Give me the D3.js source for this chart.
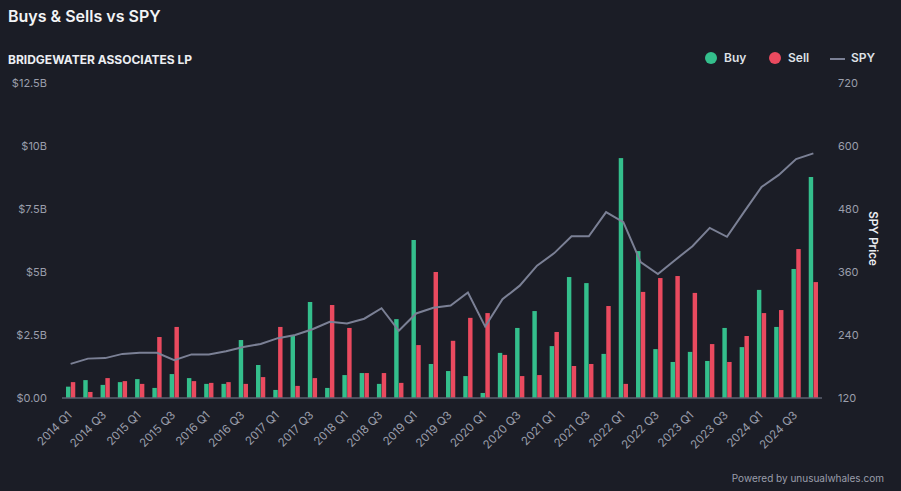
<!DOCTYPE html>
<html>
<head>
<meta charset="utf-8">
<script src="https://cdn.jsdelivr.net/npm/d3@7"></script>
<style>
  html, body { margin: 0; padding: 0; background: #1b1d26; }
  svg { display: block; font-family: Inter, "Noto Sans", sans-serif; }
</style>
</head>
<body>
<div id="chart"></div>
<script>
// quarters, buys/sells in $B, SPY close
const quarters = [];
for (let y = 2014; y <= 2024; y++) for (let q = 1; q <= 4; q++) quarters.push(`${y} Q${q}`);

const buys = [0.45, 0.71, 0.52, 0.63, 0.75, 0.40, 0.95, 0.79, 0.56, 0.56, 2.30, 1.31,
  0.32, 2.46, 3.81, 0.40, 0.91, 0.99, 0.56, 3.13, 6.27, 1.35, 1.07, 0.87,
  0.20, 1.79, 2.78, 3.45, 2.06, 4.80, 4.56, 1.75, 9.52, 5.83, 1.94, 1.43,
  1.83, 1.47, 2.78, 2.02, 4.29, 2.82, 5.12, 8.77];
const sells = [0.63, 0.24, 0.79, 0.67, 0.56, 2.42, 2.82, 0.67, 0.60, 0.63, 0.56, 0.83,
  2.82, 0.48, 0.79, 3.69, 2.78, 0.99, 0.99, 0.60, 2.10, 5.00, 2.27, 3.18,
  3.37, 1.71, 0.87, 0.91, 2.62, 1.27, 1.35, 3.65, 0.56, 4.21, 4.76, 4.84,
  4.17, 2.14, 1.43, 2.46, 3.37, 3.49, 5.91, 4.60];
const spy = [185, 195, 196, 204, 206, 206, 192, 203, 203, 209, 217, 223,
  234, 240, 251, 265, 262, 271, 291, 248, 281, 292, 296, 321,
  256, 308, 334, 372, 396, 428, 428, 474, 455, 379, 356, 383,
  409, 444, 427, 475, 522, 545, 575, 586];

const leftTicks = [0, 2.5, 5, 7.5, 10, 12.5];
const leftLabels = ['$0.00', '$2.5B', '$5B', '$7.5B', '$10B', '$12.5B'];
const rightTicks = [120, 240, 360, 480, 600, 720];

const W = 901, H = 491;
const m = { top: 83, right: 79, bottom: 93, left: 62 };
const BUY = '#34bf8c', SELL = '#ea4a5f', LINE = '#7b8095', TXT = '#9a9eab';

const svg = d3.select('#chart').append('svg').attr('width', W).attr('height', H);
svg.append('rect').attr('width', W).attr('height', H).attr('fill', '#1b1d26');

svg.append('text').attr('x', 8).attr('y', 22).attr('fill', '#f2f3f5')
  .attr('font-size', 16).attr('font-weight', 600).text('Buys & Sells vs SPY');
svg.append('text').attr('x', 8).attr('y', 64).attr('fill', '#eceef2')
  .attr('font-size', 12).attr('font-weight', 700).text('BRIDGEWATER ASSOCIATES LP');

const x = d3.scaleBand().domain(quarters).range([m.left, W - m.right]).paddingInner(0.42).paddingOuter(0.21);
const x1 = d3.scaleBand().domain(['buy', 'sell']).range([0, x.bandwidth()]).padding(0.08);
const y = d3.scaleLinear().domain([0, 12.5]).range([H - m.bottom, m.top]);
const y2 = d3.scaleLinear().domain([120, 720]).range([H - m.bottom, m.top]);

// left axis labels
svg.append('g').selectAll('text').data(leftTicks).join('text')
  .attr('x', 47).attr('y', d => y(d)).attr('dy', '0.35em')
  .attr('text-anchor', 'end').attr('fill', TXT).attr('font-size', 11)
  .text((d, i) => leftLabels[i]);

// right axis labels
svg.append('g').selectAll('text').data(rightTicks).join('text')
  .attr('x', 838).attr('y', d => y2(d)).attr('dy', '0.35em')
  .attr('fill', TXT).attr('font-size', 11).text(d => d);

svg.append('text')
  .attr('transform', `translate(869,${(m.top + H - m.bottom) / 2 - 2}) rotate(90)`)
  .attr('text-anchor', 'middle').attr('fill', '#eceef2')
  .attr('font-size', 11.5).attr('font-weight', 600).text('SPY Price');

// bars
const groups = svg.append('g').selectAll('g').data(quarters).join('g')
  .attr('transform', d => `translate(${x(d)},0)`);
groups.append('rect')
  .attr('x', x1('buy')).attr('width', x1.bandwidth())
  .attr('y', (d, i) => y(buys[i])).attr('height', (d, i) => y(0) - y(buys[i]))
  .attr('fill', BUY);
groups.append('rect')
  .attr('x', x1('sell')).attr('width', x1.bandwidth())
  .attr('y', (d, i) => y(sells[i])).attr('height', (d, i) => y(0) - y(sells[i]))
  .attr('fill', SELL);

// baseline
svg.append('line').attr('x1', m.left).attr('x2', W - m.right)
  .attr('y1', y(0)).attr('y2', y(0)).attr('stroke', '#5d6170').attr('stroke-width', 1.5);

// spy line
const line = d3.line()
  .x((d, i) => x(quarters[i]) + x.bandwidth() / 2)
  .y(d => y2(d));
svg.append('path').datum(spy).attr('d', line)
  .attr('fill', 'none').attr('stroke', LINE).attr('stroke-width', 2);

// x labels, every other quarter
svg.append('g').selectAll('text').data(quarters.filter((d, i) => i % 2 === 0)).join('text')
  .attr('transform', d => `translate(${x(d) + x.bandwidth() / 2 - 1},${y(0) + 15}) rotate(-45)`)
  .attr('text-anchor', 'end').attr('dy', '0.35em')
  .attr('fill', TXT).attr('font-size', 11.5).text(d => d);

// legend
const lg = svg.append('g').attr('font-size', 12).attr('font-weight', 600);
lg.append('circle').attr('cx', 711).attr('cy', 58).attr('r', 6).attr('fill', BUY);
lg.append('text').attr('x', 724).attr('y', 58).attr('dy', '0.35em').attr('fill', '#dfe1e6').text('Buy');
lg.append('circle').attr('cx', 775).attr('cy', 58).attr('r', 6).attr('fill', SELL);
lg.append('text').attr('x', 788).attr('y', 58).attr('dy', '0.35em').attr('fill', '#dfe1e6').text('Sell');
lg.append('line').attr('x1', 830).attr('x2', 845).attr('y1', 59).attr('y2', 59)
  .attr('stroke', LINE).attr('stroke-width', 2);
lg.append('text').attr('x', 851).attr('y', 58).attr('dy', '0.35em').attr('fill', '#dfe1e6').text('SPY');

svg.append('text').attr('x', 884).attr('y', 482).attr('text-anchor', 'end')
  .attr('fill', TXT).attr('font-size', 10).text('Powered by unusualwhales.com');
</script>
</body>
</html>
